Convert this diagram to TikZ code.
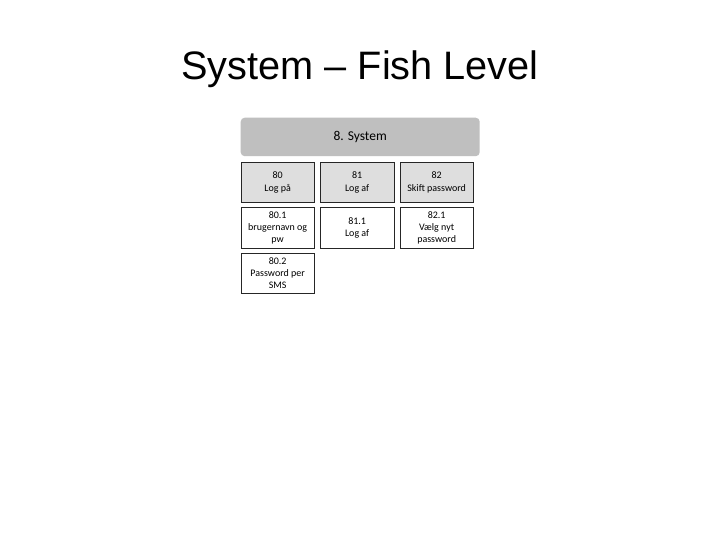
\documentclass[tikz,border=0pt]{standalone}
\usepackage{fontspec}
\setmainfont{Carlito}
\newfontfamily\titlefont{Liberation Sans}
\begin{document}
\begin{tikzpicture}[x=1pt,y=-1pt,
  hdr/.style={fill=black!25,rounded corners=4pt,inner sep=0pt,
    minimum width=239pt,minimum height=38.5pt,anchor=north west,
    font=\fontsize{13.5}{16}\selectfont},
  cell/.style={draw=black!85,line width=0.8pt,inner sep=0pt,align=center,
    minimum width=73.5pt,minimum height=40pt,anchor=north west,
    font=\fontsize{10}{12.2}\selectfont},
  top/.style={cell,fill=black!13},
  sub/.style={cell,fill=white}]
\useasboundingbox (0,0) rectangle (720,540);
\fill[white] (0,0) rectangle (720,540);
\node[font=\titlefont\fontsize{39.7}{46}\selectfont,anchor=base] (title) at (360,79.5) {System – Fish Level};
\node[hdr] (h) at (240.5,117.5) {8. System};
\node[top] (a0) at (240.5,162) {80\\Log på};
\node[top] (a1) at (320,162) {81\\Log af};
\node[top] (a2) at (399.5,162) {82\\Skift password};
\node[sub] (b0) at (240.5,207.5) {80.1\\brugernavn og\\pw};
\node[sub] (b1) at (320,207.5) {81.1\\Log af};
\node[sub] (b2) at (399.5,207.5) {82.1\\Vælg nyt\\password};
\node[sub] (c0) at (240.5,253) {80.2\\Password per\\SMS};
\end{tikzpicture}
\end{document}
